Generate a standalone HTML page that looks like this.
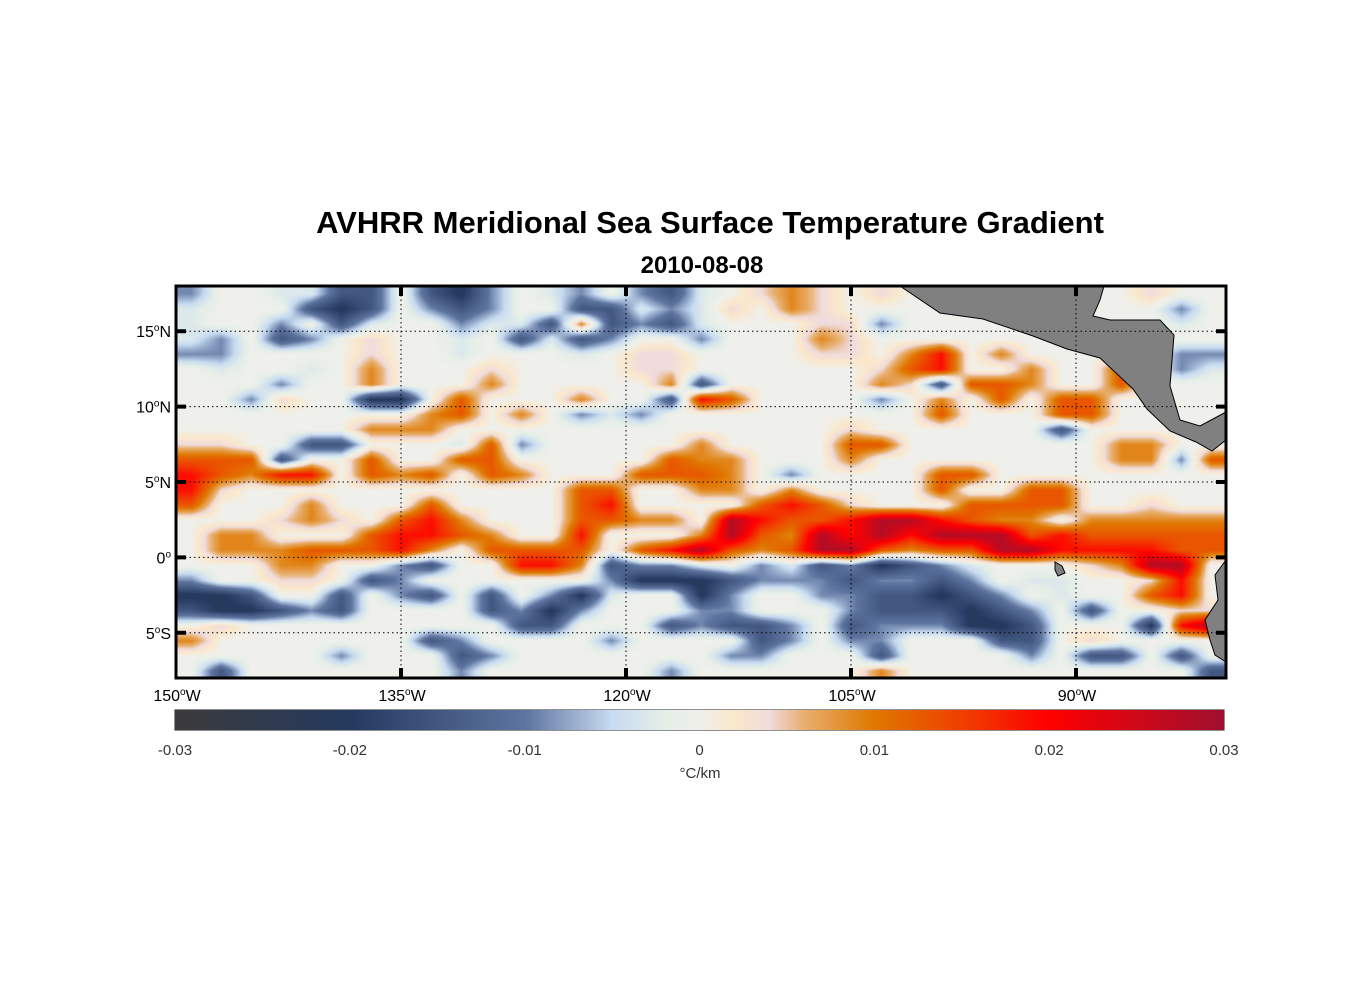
<!DOCTYPE html>
<html><head><meta charset="utf-8"><style>
body{margin:0;background:#fff;width:1356px;height:1000px;position:relative;overflow:hidden;font-family:"Liberation Sans",sans-serif}
.t{position:absolute;white-space:nowrap}
</style></head><body>
<div class="t" style="left:0;width:1420px;text-align:center;top:205px;font-size:31px;font-weight:bold">AVHRR Meridional Sea Surface Temperature Gradient</div>
<div class="t" style="left:0;width:1404px;text-align:center;top:252px;font-size:24px;font-weight:bold">2010-08-08</div>
<canvas id="map" width="1050" height="392" style="position:absolute;left:176px;top:286px"></canvas>
<svg id="ov" width="1356" height="1000" style="position:absolute;left:0;top:0"></svg>
<canvas id="cb" width="1049" height="20" style="position:absolute;left:175px;top:710px"></canvas>
<script>
const lonTicks=[-150,-135,-120,-105,-90];
const lonLabels=["150","135","120","105","90"];
const latTicks=[15,10,5,0,-5];
const latLabels=["15","10","5","0","5"];
const latHemi=["N","N","N","","S"];
const cbTicks=[-0.03,-0.02,-0.01,0,0.01,0.02,0.03];
const cbLabels=["-0.03","-0.02","-0.01","0","0.01","0.02","0.03"];
const levelChars="DCBA.abcde";
const levelVals=[-0.021,-0.015,-0.009,-0.003,0,0.004,0.009,0.013,0.019,0.028];
const gridRows=[
["B..AA","CC.CD","B.AB.","BCA.a","ba.a.",".....","..a.."],
["A...C","DC.BC","B..CC","ABAa.","ba...",".....","...B."],
["A..B.","CA..B","AACbC","BCA..",".aaB.",".....","...A."],
["AB.CB",".a..A",".CACB","..B..",".ba..",".....","....."],
["BB...",".a..A","...A.","aa...",".aa.b","d.b..","...BB"],
[".A..A",".b...","a....","aa...","...ac","d..b.",".c.BA"],
["...B.",".b...","b....",".bC..","...ba","Cccb.",".c..."],
["..Ba.",".DD.c","...b.",".Cdc.","...B.","b.c.c","c...."],
[".....","...bc",".b.BA","B....",".....","c...c","c...."],
[".....",".bbb.",".....",".....","..a..","....C","....."],
["aa..C","C...A","cB...","..b..","..cc.",".....",".bb.."],
["cccC.",".c..c","c....",".cbb.","..b..",".....",".bbBc"],
["dcbdd",".cbc.","cb...","cccb.","B....","cc...","....."],
["da...",".....","...cc","..bb.","b....","c..cc","....."],
["c...b","...c.","...cd","....c","dca..",".cccc","..a.."],
["...ab","a.cdb","...cc","bb.ed","ccdee","dcbb.","bbbbb"],
[".bb..",".cddc","b..d.","..bec","beded","eeecd","ccccc"],
[".bbbc","ccdb.","cccc.","cdecb","ceecb","cceed","dddcc"],
["...bb","..BC.",".ddbC","BBA.B","ACBDC","BA...","abee."],
["B..aa",".CB..","....B","DDDCB","BBCBB","CB.AA","..ad."],
["DDC..","C.BC.","C.BDA","..DB.",".BBCC","DCB.A","..cd."],
["CDDCB","C....","CBDB.","..BB.","..BCC","CDCB.","C..aa"],
[".a...",".....",".CC..",".CBCC","B.CBB","BDDC.","..Dde"],
["b....","...CB","....B","....C","B.BB.","..CC.","a...."],
[".....","B...C","B....","...BB","...C.","...B.","CC.C."],
[".C...","....B",".....",".B...","...b.",".....","....C"]
];
</script>
<script>
const NC=35,NR=26;
const grid=gridRows.map(r=>r.join('').split('').map(c=>levelVals[levelChars.indexOf(c)]));
const cmapV=[-0.03,-0.02,-0.01,-0.005,-0.002,0,0.002,0.004,0.006,0.01,0.015,0.02,0.03];
const cmapC=[[59,59,59],[37,58,96],[94,117,160],[200,220,242],[230,238,232],[239,240,236],[251,232,204],[240,220,220],[232,176,112],[224,120,0],[240,64,0],[255,0,0],[160,16,48]];
function cmap(v){if(v<=cmapV[0])return cmapC[0];if(v>=cmapV[cmapV.length-1])return cmapC[cmapC.length-1];
for(let i=0;i<cmapV.length-1;i++){if(v<=cmapV[i+1]){const t=(v-cmapV[i])/(cmapV[i+1]-cmapV[i]);const a=cmapC[i],b=cmapC[i+1];return [a[0]+(b[0]-a[0])*t,a[1]+(b[1]-a[1])*t,a[2]+(b[2]-a[2])*t];}}}
const W=1050,H=392;
const lonMin=-150,lonMax=-80,latMin=-8,latMax=18;
const xs=lon=>176+(lon-lonMin)/(lonMax-lonMin)*W;
const ys=lat=>286+(latMax-lat)/(latMax-latMin)*H;
const cw=W/NC,ch=H/NR;
const ctx=document.getElementById('map').getContext('2d');
const img=ctx.createImageData(W,H);
function g(j,k){j=Math.max(0,Math.min(NR-1,j));k=Math.max(0,Math.min(NC-1,k));return grid[j][k];}
for(let y=0;y<H;y++){const fy=y/ch-0.5,j0=Math.floor(fy),ty=fy-j0;
 for(let x=0;x<W;x++){const fx=x/cw-0.5,k0=Math.floor(fx),tx=fx-k0;
  const v=(g(j0,k0)*(1-tx)+g(j0,k0+1)*tx)*(1-ty)+(g(j0+1,k0)*(1-tx)+g(j0+1,k0+1)*tx)*ty;
  const c=cmap(v),p=(y*W+x)*4;img.data[p]=c[0];img.data[p+1]=c[1];img.data[p+2]=c[2];img.data[p+3]=255;}}
ctx.putImageData(img,0,0);
const cb=document.getElementById('cb').getContext('2d');
for(let x=0;x<1049;x++){const v=-0.03+x/1048*0.06;const c=cmap(v);cb.fillStyle=`rgb(${c[0]|0},${c[1]|0},${c[2]|0})`;cb.fillRect(x,0,1,20);}
const NS='http://www.w3.org/2000/svg';
const ov=document.getElementById('ov');
function el(t,a){const e=document.createElementNS(NS,t);for(const k in a)e.setAttribute(k,a[k]);ov.appendChild(e);return e;}
const land1=el('polygon',{points:"900,286 1104,286 1100,300 1093,316 1110,320 1160,320 1174,335 1170,386 1180,420 1200,426 1226,412 1226,440 1212,451 1196,442 1170,431 1147,409 1133,389 1100,358 1067,349 1033,336 983,319 940,313",fill:'#808080',stroke:'#000','stroke-width':1});


const land2=el('polygon',{points:"1226,560 1215,575 1218,600 1205,620 1210,640 1215,655 1226,662",fill:'#808080',stroke:'#000','stroke-width':1});


const gal=el('polygon',{points:"1055,562 1062,566 1065,573 1058,576 1055,570",fill:'#808080',stroke:'#000','stroke-width':1});


lonTicks.forEach((lon,i)=>{const x=xs(lon);
 if(i>0){const l=el('line',{x1:x,y1:286,x2:x,y2:678,stroke:'#000','stroke-width':1,'stroke-dasharray':'1.5,3'});
 el('line',{x1:x,y1:286,x2:x,y2:296,stroke:'#000','stroke-width':4});el('line',{x1:x,y1:668,x2:x,y2:678,stroke:'#000','stroke-width':4});}
 const t=el('text',{x:x+1,y:701,'text-anchor':'middle','font-size':16,'font-family':'Liberation Sans'});
 
 t.innerHTML=lonLabels[i]+'<tspan dy="-6" font-size="10">o</tspan><tspan dy="6">W</tspan>';});
latTicks.forEach((lat,i)=>{const y=ys(lat);
 const l=el('line',{x1:176,y1:y,x2:1226,y2:y,stroke:'#000','stroke-width':1,'stroke-dasharray':'1.5,3'});
 el('line',{x1:176,y1:y,x2:186,y2:y,stroke:'#000','stroke-width':4});el('line',{x1:1216,y1:y,x2:1226,y2:y,stroke:'#000','stroke-width':4});
 const t=el('text',{x:171,y:y+6,'text-anchor':'end','font-size':16,'font-family':'Liberation Sans'});
 
 t.innerHTML=latLabels[i]+'<tspan dy="-6" font-size="10">o</tspan><tspan dy="6">'+latHemi[i]+'</tspan>';});
const fr=el('rect',{x:176,y:286,width:1050,height:392,fill:'none',stroke:'#000','stroke-width':3});

const cbr=el('rect',{x:175,y:710,width:1049,height:20,fill:'none',stroke:'#222','stroke-width':1});

cbTicks.forEach((v,i)=>{const x=175+(v+0.03)/0.06*1049;
 el('line',{x1:x,y1:720,x2:x,y2:730,stroke:'#222','stroke-width':1});
 const t=el('text',{x:x,y:755,'text-anchor':'middle','font-size':15,fill:'#333','font-family':'Liberation Sans'});
 t.textContent=cbLabels[i];});
const u=el('text',{x:700,y:778,'text-anchor':'middle','font-size':15,fill:'#333','font-family':'Liberation Sans'});
u.textContent='°C/km';
</script>
</body></html>
